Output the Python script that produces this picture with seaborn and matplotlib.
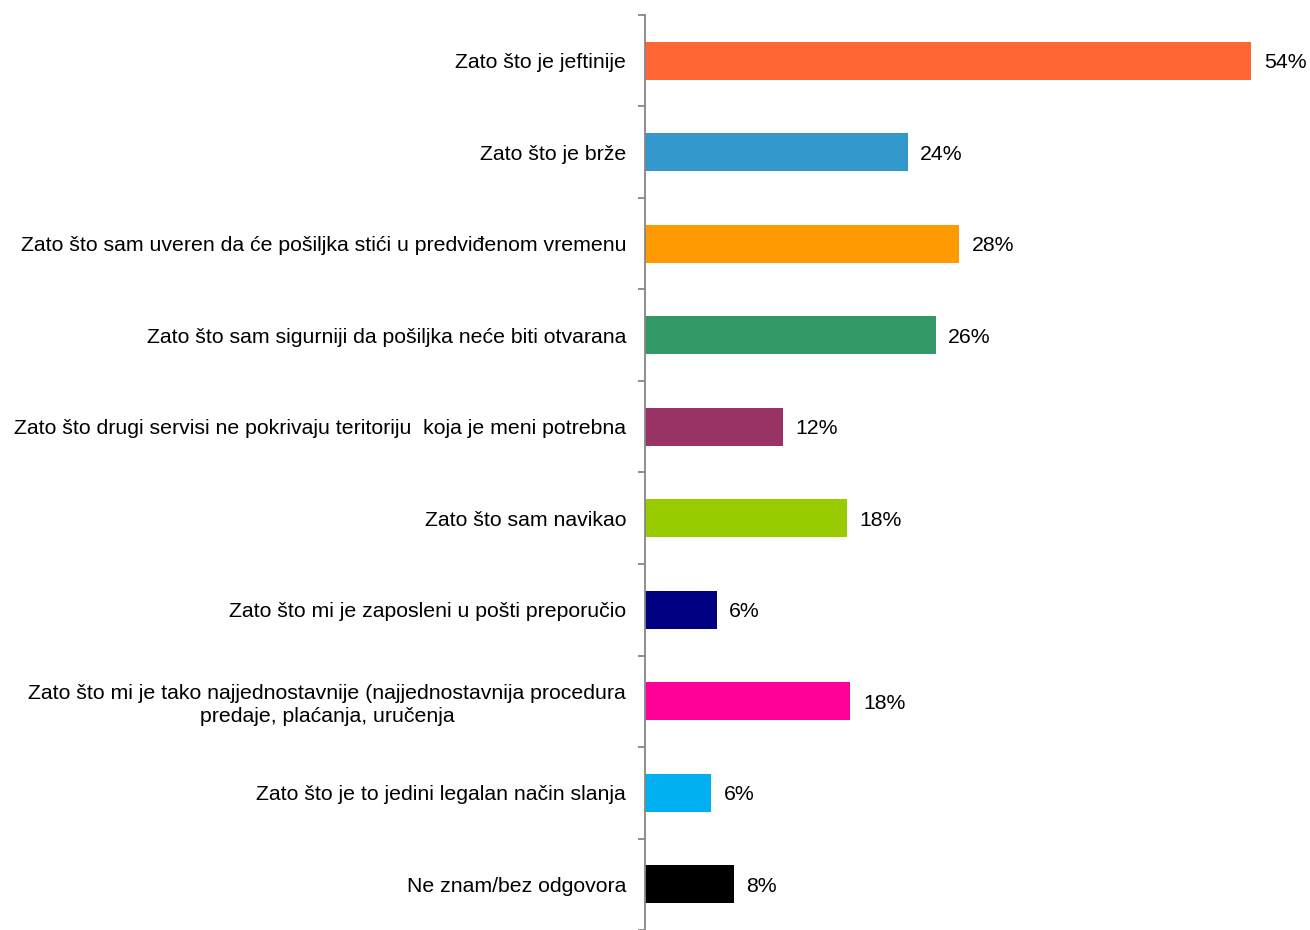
import numpy as np
import pandas as pd
from matplotlib import pyplot as plt
import seaborn as sns

razlozi = [
    'Zato što je jeftinije',
    'Zato što je brže',
    'Zato što sam uveren da će pošiljka stići u predviđenom vremenu',
    'Zato što sam sigurniji da pošiljka neće biti otvarana',
    'Zato što drugi servisi ne pokrivaju teritoriju  koja je meni potrebna',
    'Zato što sam navikao',
    'Zato što mi je zaposleni u pošti preporučio',
    'Zato što mi je tako najjednostavnije (najjednostavnija procedura\npredaje, plaćanja, uručenja',
    'Zato što je to jedini legalan način slanja',
    'Ne znam/bez odgovora',
]
procenti = [54.0, 23.4, 28.0, 25.9, 12.3, 18.0, 6.4, 18.3, 5.9, 7.9]
oznake = ['54%', '24%', '28%', '26%', '12%', '18%', '6%', '18%', '6%', '8%']
boje = ['#FF6633', '#3399CC', '#FF9900', '#339966', '#993366',
        '#99CC00', '#000080', '#FF0099', '#00B0F0', '#000000']

df = pd.DataFrame({'razlog': razlozi, 'procenat': procenti})

sns.set_style('white')
plt.rcParams['font.family'] = ['Liberation Sans', 'DejaVu Sans']

fig = plt.figure(figsize=(13.1, 9.3), dpi=100)
ax = fig.add_axes([645 / 1310, 0, 1 - 645 / 1310 - 0.008, 1 - 15 / 930])

sns.barplot(data=df, x='procenat', y='razlog', hue='razlog', palette=boje,
            legend=False, width=0.415, ax=ax, saturation=1, linewidth=0)

# value labels to the right of the bars
for cont, lab in zip(ax.containers, oznake):
    txts = ax.bar_label(cont, labels=[lab], padding=9, fontsize=15.3, color='black')
    for t in txts:
        t.set_va('center_baseline')

ax.set_xlim(0, 58.3)
ax.set_ylim(9.5, -0.5)
ax.set_xlabel('')
ax.set_ylabel('')
ax.set_xticks([])

for s in ['top', 'right', 'bottom']:
    ax.spines[s].set_visible(False)
ax.spines['left'].set_color('#868686')
ax.spines['left'].set_linewidth(1.3)

ax.set_yticks(range(len(razlozi)))
ax.set_yticklabels(razlozi, fontsize=15.3, color='black', multialignment='center',
                   linespacing=1.25)
ax.tick_params(axis='y', which='major', length=0, pad=13.5)
ax.set_yticks(np.arange(-0.5, 10, 1), minor=True)
ax.tick_params(axis='y', which='minor', length=5, width=1.3, color='#868686',
               direction='out', left=True)

fig.savefig('out.png', dpi=100)
